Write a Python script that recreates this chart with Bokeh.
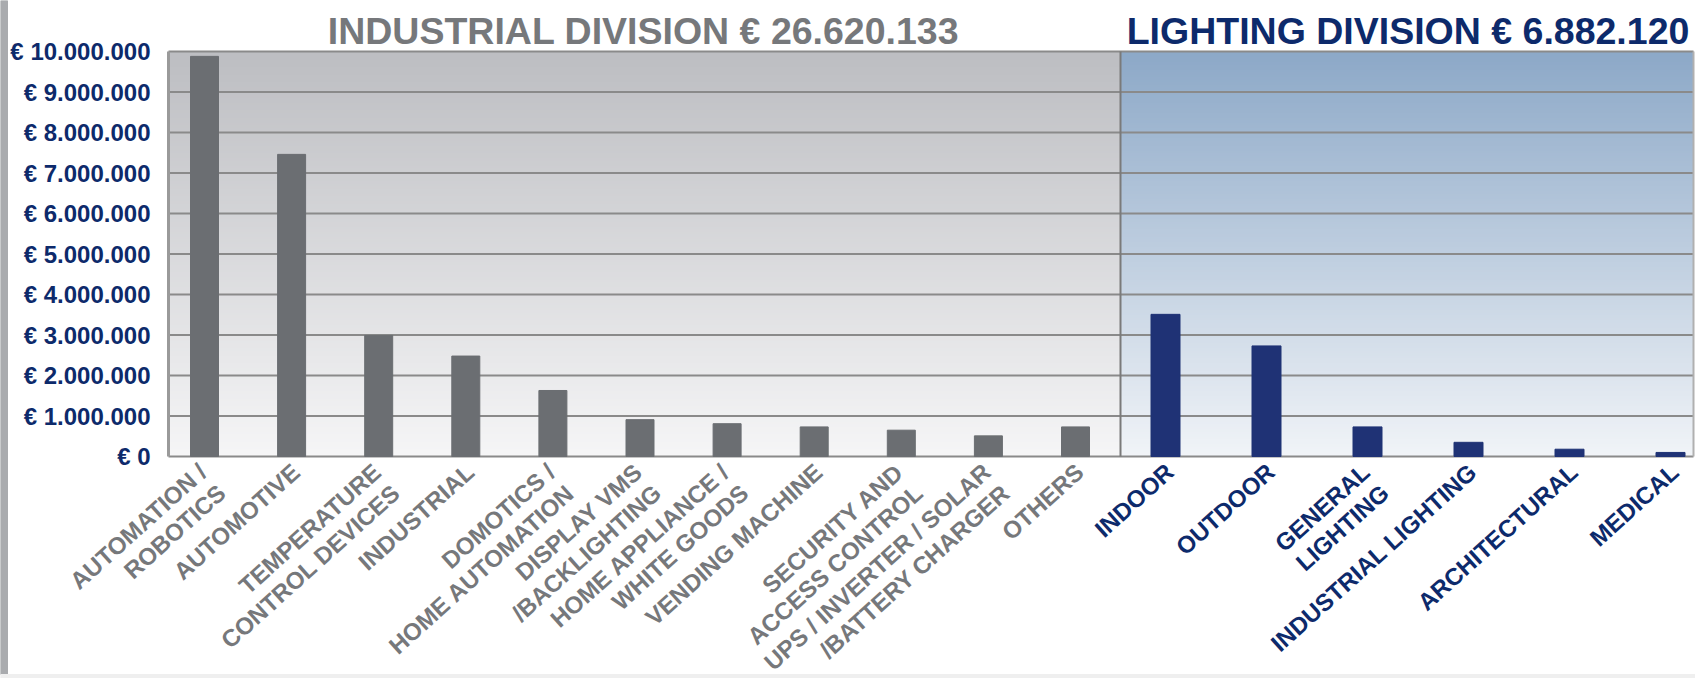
import numpy as np
from math import pi
from bokeh.plotting import figure
from bokeh.models import Range1d, LabelSet, ColumnDataSource, Label
from bokeh.core.properties import value
from bokeh.embed import file_html
from bokeh.resources import INLINE

# ---------------- data ----------------
industrial_categories = [
    "AUTOMATION /\nROBOTICS", "AUTOMOTIVE", "TEMPERATURE\nCONTROL DEVICES",
    "INDUSTRIAL", "DOMOTICS /\nHOME AUTOMATION", "DISPLAY VMS\n/BACKLIGHTING",
    "HOME APPLIANCE /\nWHITE GOODS", "VENDING MACHINE",
    "SECURITY AND\nACCESS CONTROL", "UPS / INVERTER / SOLAR\n/BATTERY CHARGER",
    "OTHERS",
]
industrial_values = [9880000, 7460000, 2990000, 2480000, 1630000, 910000,
                     810000, 730000, 650000, 510000, 730000]

lighting_categories = ["INDOOR", "OUTDOOR", "GENERAL\nLIGHTING",
                       "INDUSTRIAL LIGHTING", "ARCHITECTURAL", "MEDICAL"]
lighting_values = [3510000, 2730000, 730000, 350000, 180000, 100000]

y_tick_values = [0, 1000000, 2000000, 3000000, 4000000, 5000000,
                 6000000, 7000000, 8000000, 9000000, 10000000]
y_tick_labels = ["€ 0", "€ 1.000.000", "€ 2.000.000", "€ 3.000.000",
                 "€ 4.000.000", "€ 5.000.000", "€ 6.000.000", "€ 7.000.000",
                 "€ 8.000.000", "€ 9.000.000", "€ 10.000.000"]

industrial_title = "INDUSTRIAL DIVISION € 26.620.133"
lighting_title = "LIGHTING DIVISION € 6.882.120"

# ---------------- layout / style ----------------
FONT = "Liberation Sans"
NAVY = "#0d2a6b"
GREY_TXT = "#76787b"
IND_BAR = "#6b6e72"
LIG_BAR = "#1f3275"
LINE = "#8a8a8a"

LEFT_PX, RIGHT_PX = 168, 2      # room left of / right of the chart box
CHART_W, CHART_H = 1525, 405    # chart box size in px
ABOVE_PX, BELOW_PX = 51, 222    # room above / below the chart box
IND_STEP = 87.1                 # px per industrial category
LIG_STEP = 101.0                # px per lighting category
SPLIT_PX = 952                  # px from chart left where lighting starts
IND_FIRST_PX = 36               # first industrial bar centre from chart left
LIG_FIRST_PX = 45               # first lighting bar centre from split
LABEL_PX = 24
ANGLE = 42 * pi / 180

cx0 = -IND_FIRST_PX / IND_STEP              # chart left, industrial units
cx1 = cx0 + CHART_W / IND_STEP              # chart right
split = cx0 + SPLIT_PX / IND_STEP
lx0 = -(SPLIT_PX + LIG_FIRST_PX) / LIG_STEP  # chart left, lighting units
y_top = y_tick_values[-1]
per_px = y_top / CHART_H

W = LEFT_PX + CHART_W + RIGHT_PX
H = ABOVE_PX + CHART_H + BELOW_PX
xr = Range1d(cx0 - LEFT_PX / IND_STEP, cx1 + RIGHT_PX / IND_STEP)
yr = Range1d(-BELOW_PX * per_px, y_top + ABOVE_PX * per_px)
p = figure(width=W, height=H, x_range=xr, y_range=yr,
           output_backend="svg", toolbar_location=None, min_border=0)
p.extra_x_ranges = {"lighting": Range1d(lx0 - LEFT_PX / LIG_STEP,
                                        lx0 + (CHART_W + RIGHT_PX) / LIG_STEP)}
p.title.visible = False
p.xaxis.visible = False
p.yaxis.visible = False
p.grid.visible = False
p.background_fill_color = "white"
p.border_fill_color = "white"
p.outline_line_color = None

# slide edge strips (left and bottom)
p.quad(left=[xr.start, xr.start], right=[xr.start + 7 / IND_STEP, xr.end],
       bottom=[yr.start + 4 * per_px, yr.start],
       top=[yr.end, yr.start + 4 * per_px],
       color=["#a9abae", "#efefef"])


def gradient(top, bottom, n=160):
    top = np.array(top, dtype=float)
    bottom = np.array(bottom, dtype=float)
    t = np.linspace(0.0, 1.0, n)[:, None]
    rgb = bottom * (1 - t) + top * t
    img = np.empty((n, 1), dtype=np.uint32)
    view = img.view(dtype=np.uint8).reshape((n, 1, 4))
    view[:, :, 0:3] = rgb[:, None, :].astype(np.uint8)
    view[:, :, 3] = 255
    return img


p.image_rgba(image=[gradient((189, 190, 194), (246, 246, 247))],
             x=cx0, y=0, dw=split - cx0, dh=y_top)
p.image_rgba(image=[gradient((141, 169, 200), (241, 244, 248))],
             x=split, y=0, dw=cx1 - split, dh=y_top)

# horizontal grid lines (incl. base and top line)
p.segment(x0=[cx0] * len(y_tick_values), y0=y_tick_values,
          x1=[cx1] * len(y_tick_values), y1=y_tick_values,
          line_color=LINE, line_width=2)
# vertical frame lines: left edge, divider, right edge
p.segment(x0=[cx0, split, cx1], y0=[0, 0, 0], x1=[cx0, split, cx1],
          y1=[y_top] * 3, line_color=["#9a9a9a", "#7a7a7a", "#b0b0b0"],
          line_width=[3, 2, 2])

# bars
p.vbar(x=list(range(len(industrial_values))), top=industrial_values,
       width=28 / IND_STEP, color=IND_BAR)
p.vbar(x=list(range(len(lighting_values))), top=lighting_values,
       width=29 / LIG_STEP, color=LIG_BAR, x_range_name="lighting")

# y tick labels
ysrc = ColumnDataSource(dict(x=[cx0] * len(y_tick_values), y=y_tick_values,
                             text=y_tick_labels))
p.add_layout(LabelSet(x="x", y="y", text="text", source=ysrc,
                      text_align="right", text_baseline="middle",
                      x_offset=-18, y_offset=0, text_font=value(FONT),
                      text_font_style="bold", text_font_size="24px",
                      text_color=NAVY))


def label_set(cats, color, range_name):
    xs, texts, xo, yo = [], [], [], []
    for i, c in enumerate(cats):
        lines = c.split("\n")
        n = len(lines)
        for k, line in enumerate(lines):
            dx = 6 - 6 * (n - 1) + 19 * k   # end of line vs bar centre
            dy = 13 + 21 * k                # below the base line
            xs.append(i)
            texts.append(line)
            xo.append(dx + 4)
            yo.append(-(dy + 5))
    src = ColumnDataSource(dict(x=xs, y=[0] * len(xs), text=texts, xo=xo, yo=yo))
    return LabelSet(x="x", y="y", text="text", source=src, angle=ANGLE,
                    text_align="right", text_baseline="alphabetic",
                    x_offset="xo", y_offset="yo",
                    text_font=value(FONT), text_font_style="bold",
                    text_font_size=f"{LABEL_PX}px", text_color=color,
                    x_range_name=range_name)


p.add_layout(label_set(industrial_categories, GREY_TXT, "default"))
p.add_layout(label_set(lighting_categories, NAVY, "lighting"))

# section titles
p.add_layout(Label(x=(cx0 + split) / 2, y=y_top, text=industrial_title,
                   text_align="center", text_baseline="alphabetic",
                   x_offset=-1, y_offset=21, text_font=FONT,
                   text_font_style="bold", text_font_size="37.5px",
                   text_color=GREY_TXT))
p.add_layout(Label(x=(split + cx1) / 2, y=y_top, text=lighting_title,
                   text_align="center", text_baseline="alphabetic",
                   x_offset=1, y_offset=21, text_font=FONT,
                   text_font_style="bold", text_font_size="37.5px",
                   text_color=NAVY))

open("out.html", "w").write(file_html(p, INLINE))
